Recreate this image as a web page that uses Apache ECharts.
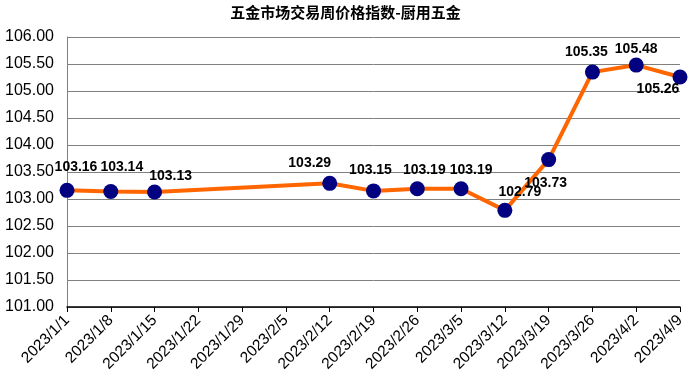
<!DOCTYPE html>
<html><head><meta charset="utf-8">
<script src="https://cdn.jsdelivr.net/npm/echarts@6/dist/echarts.min.js"></script>
<style>html,body{margin:0;padding:0;background:#fff}#c{width:691px;height:379px}</style>
</head><body><div id="c"></div>
<script>
const titleText = '五金市场交易周价格指数-厨用五金';
const categories = ['2023/1/1','2023/1/8','2023/1/15','2023/1/22','2023/1/29','2023/2/5','2023/2/12','2023/2/19','2023/2/26','2023/3/5','2023/3/12','2023/3/19','2023/3/26','2023/4/2','2023/4/9'];
const values = [103.16,103.14,103.13,null,null,null,103.29,103.15,103.19,103.19,102.79,103.73,105.35,105.48,105.26];
const labelOffsets = [[9,-23],[11,-24],[16,-16],null,null,null,[-20,-20],[-3,-21],[7,-19],[10,-19],[15,-18],[-3,24],[-6,-20],[0,-16],[-22,12]];

const data = values.map((v,i)=> v===null ? null : {
  value: v,
  label: {offset: labelOffsets[i]}
});

const chart = echarts.init(document.getElementById('c'));
chart.setOption({
  animation:false,
  title:{text:titleText,left:'center',top:0,textStyle:{fontFamily:'"Noto Sans CJK SC"',fontSize:15,fontWeight:'bold',color:'#000'}},
  grid:{left:67,right:11,top:37,bottom:72},
  xAxis:{type:'category',data:categories,boundaryGap:false,
    axisLine:{lineStyle:{color:'#000',width:1.5}},
    axisTick:{show:true,length:5,lineStyle:{color:'#000'}},
    axisLabel:{rotate:45,fontSize:15.5,color:'#000',fontFamily:'"Liberation Sans", Arial',margin:11,interval:0},
    splitLine:{show:false}},
  yAxis:{type:'value',min:101,max:106,interval:0.5,
    axisLine:{show:true,lineStyle:{color:'#808080'}},
    axisTick:{show:false},
    axisLabel:{formatter:v=>v.toFixed(2),fontSize:16,color:'#000',fontFamily:'"Liberation Sans", Arial',margin:13},
    splitLine:{lineStyle:{color:'#808080',width:1}}},
  series:[{type:'line',data:data,connectNulls:true,
    lineStyle:{color:'#FF6600',width:4},
    itemStyle:{color:'#000080'},
    symbol:'circle',symbolSize:15,
    label:{show:true,position:'inside',formatter:p=>p.value.toFixed(2),fontSize:14,fontWeight:'bold',color:'#000',fontFamily:'"Liberation Sans", Arial'}
  }]
});
</script></body></html>
